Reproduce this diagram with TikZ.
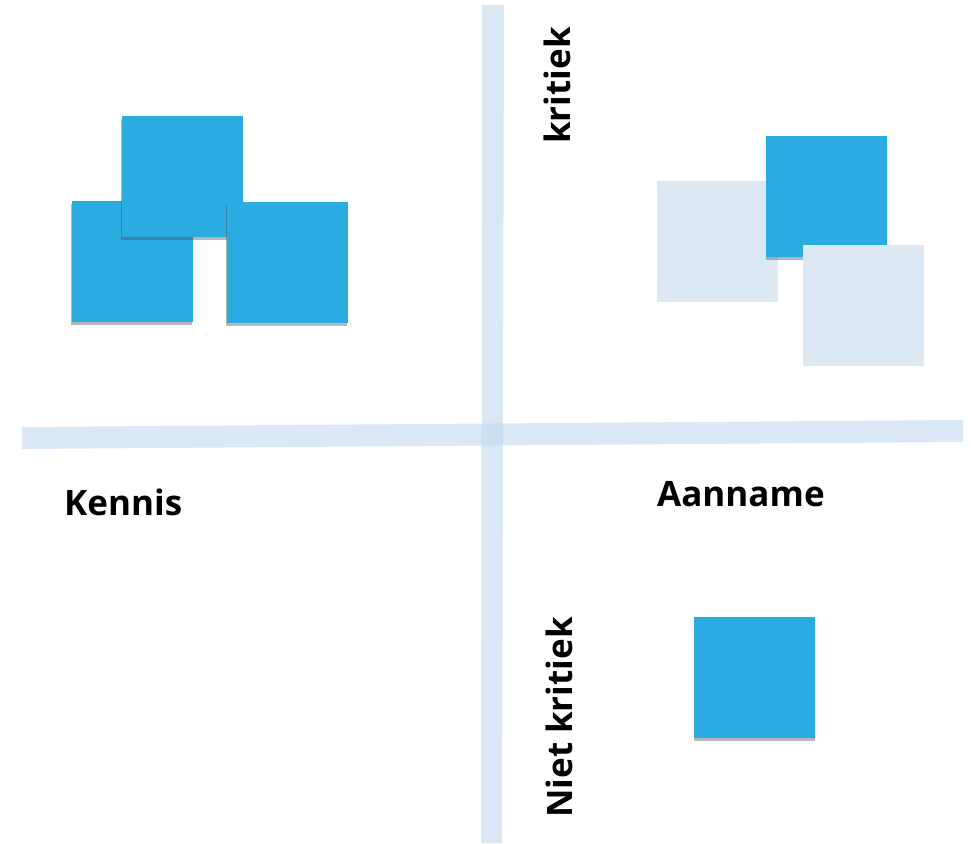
\documentclass[tikz,border=0pt]{standalone}
\usepackage{fontspec}
\setmainfont{Open Sans}
\usetikzlibrary{shadows}
\definecolor{sqblue}{HTML}{2AACE2}
\definecolor{sqpale}{HTML}{DDE8F5}
\definecolor{axis}{HTML}{C2D8EF}
\tikzset{
  card/.style={inner sep=0pt, outer sep=0pt, minimum width=121pt, minimum height=121pt},
  bluecard/.style={card, fill=sqblue, drop shadow={shadow xshift=-0.5pt, shadow yshift=-3pt, opacity=0.4, fill=black!70}},
  palecard/.style={card, fill=sqpale},
  axisband/.style={fill=axis, fill opacity=0.6},
  lbl/.style={inner sep=0pt, font=\fontsize{35}{42}\selectfont\bfseries}
}
\begin{document}
\begin{tikzpicture}[x=1pt,y=-1pt]
\useasboundingbox (0,0) rectangle (971,843);
% axes
\fill[axisband] (22,427) -- (963,420) -- (963,442) -- (22,449) -- cycle;
\fill[axisband] (482,5) -- (504,5) -- (502,843) -- (481,843) -- cycle;
% left group
\node[bluecard] (kl) at (132,261.5) {};
\node[bluecard] (kt) at (182,176) {};
\node[bluecard] (kr) at (287,262) {};
% right group
\node[palecard] (al) at (717.5,241) {};
\node[bluecard] (ab) at (826.5,196) {};
\node[palecard] (ar) at (863.5,305.5) {};
% bottom square
\node[bluecard] (nb) at (754.5,677) {};
% labels
\node[lbl, anchor=base west] (kennis) at (64,515) {Kennis};
\node[lbl, anchor=base west] (aanname) at (657,506) {Aanname};
\node[lbl, anchor=base west, rotate=90] (kritiek) at (570,144) {kritiek};
\node[lbl, anchor=base west, rotate=90] (nietkritiek) at (572,818) {Niet kritiek};
\end{tikzpicture}
\end{document}
